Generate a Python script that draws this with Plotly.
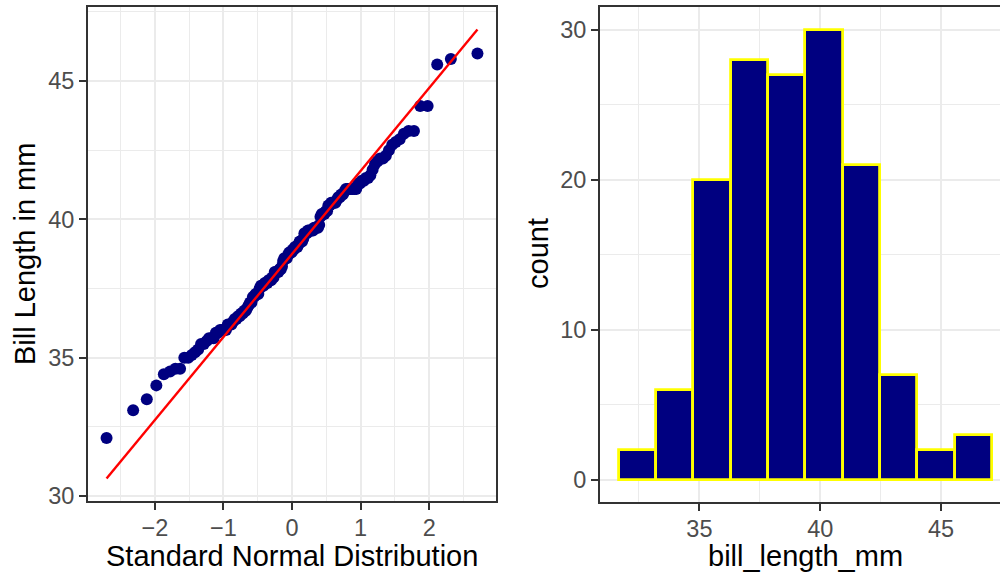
import statistics
import numpy as np
import plotly.graph_objects as go

# Adelie bill lengths (mm), complete cases
bill_length_mm = [
    39.1, 39.5, 40.3, 36.7, 39.3, 38.9, 39.2, 41.1, 38.6, 34.6,
    36.6, 38.7, 42.5, 34.4, 46.0, 37.8, 37.7, 35.9, 38.2, 38.8,
    35.3, 40.6, 40.5, 37.9, 40.5, 39.5, 37.2, 39.5, 40.9, 36.4,
    39.2, 38.8, 42.2, 37.6, 39.8, 36.5, 40.8, 36.0, 44.1, 37.0,
    39.6, 41.1, 36.0, 42.3, 39.6, 40.1, 35.0, 42.0, 34.5, 41.4,
    39.0, 40.6, 36.5, 37.6, 35.7, 41.3, 37.6, 41.1, 36.4, 41.6,
    35.5, 41.1, 35.9, 41.8, 33.5, 39.7, 39.6, 45.8, 35.5, 42.8,
    40.9, 37.2, 36.2, 42.1, 34.6, 42.9, 36.7, 35.1, 37.3, 41.3,
    36.3, 36.9, 38.3, 38.9, 35.7, 41.1, 34.0, 39.6, 36.2, 40.8,
    38.1, 40.3, 33.1, 43.2, 35.0, 41.0, 37.7, 37.8, 37.9, 39.7,
    38.6, 38.2, 38.1, 43.2, 38.1, 45.6, 39.7, 42.2, 39.6, 42.7,
    38.6, 37.3, 35.7, 41.1, 36.2, 37.7, 40.2, 41.4, 35.2, 40.6,
    38.8, 41.5, 39.0, 44.1, 38.5, 43.1, 36.8, 37.5, 38.1, 41.1,
    35.6, 40.2, 37.0, 39.7, 40.2, 40.6, 32.1, 40.7, 37.3, 39.0,
    39.2, 36.6, 36.0, 37.8, 36.0, 41.5,
]

# histogram counts per bin (10 bins)
hist_counts = [2, 6, 20, 28, 27, 30, 21, 7, 2, 3]

qq_x_ticks = [-2, -1, 0, 1, 2]
qq_y_ticks = [30, 35, 40, 45]
hist_x_ticks = [35, 40, 45]
hist_y_ticks = [0, 10, 20, 30]

# ---- normal Q-Q ----
nd = statistics.NormalDist()
sample = sorted(bill_length_mm)
n = len(sample)
theoretical = [nd.inv_cdf((i + 0.5) / n) for i in range(n)]
q1, q3 = np.quantile(sample, [0.25, 0.75])
t1, t3 = nd.inv_cdf(0.25), nd.inv_cdf(0.75)
slope = (q3 - q1) / (t3 - t1)
intercept = q1 - slope * t1
line_x = [theoretical[0], theoretical[-1]]
line_y = [intercept + slope * x for x in line_x]

# ---- histogram bins ----
lo, hi = min(sample), max(sample)
binwidth = (hi - lo) / (len(hist_counts) - 1)
boundary = binwidth / 2
origin = boundary + np.floor((lo - boundary) / binwidth) * binwidth
edges = origin + binwidth * np.arange(len(hist_counts) + 1)
centers = (edges[:-1] + edges[1:]) / 2


def expand(a, b, f=0.05):
    d = (b - a) * f
    return [a - d, b + d]


W, H = 1000, 573
px = lambda v: v / W
py = lambda v: (H - v) / H

GRID = "#EBEBEB"
DARK = "#333333"
TICKFONT = dict(family="Liberation Sans, Arial, sans-serif", size=23.5, color="#4D4D4D")
TITLEFONT = dict(family="Liberation Sans, Arial, sans-serif", size=29, color="black")

fig = go.Figure()

fig.add_trace(go.Scatter(
    x=theoretical, y=sample, mode="markers",
    marker=dict(color="#000080", size=12, line=dict(width=0)),
    xaxis="x", yaxis="y", hoverinfo="skip", showlegend=False,
))
fig.add_trace(go.Scatter(
    x=line_x, y=line_y, mode="lines",
    line=dict(color="#FF0000", width=2.4),
    xaxis="x", yaxis="y", hoverinfo="skip", showlegend=False,
))
fig.add_trace(go.Bar(
    x=centers, y=hist_counts, width=binwidth,
    marker=dict(color="#000080", line=dict(color="#FFFF00", width=2.8)),
    xaxis="x2", yaxis="y2", hoverinfo="skip", showlegend=False,
))

qq_xr = expand(theoretical[0], theoretical[-1])
qq_yr = expand(min(min(sample), min(line_y)), max(max(sample), max(line_y)))
h_xr_full = expand(edges[0], edges[-1])
h_yr = expand(0, max(hist_counts))

# right panel runs past the page edge; keep its px-per-unit scale and cut at 1000
left2, right2 = 600, 1000
h_scale = 24.17
h_xr = [h_xr_full[0], h_xr_full[0] + (right2 - left2) / h_scale]

common = dict(
    showgrid=True, gridcolor=GRID, gridwidth=2,
    zeroline=False, showline=True, linecolor=DARK, linewidth=2,
    ticks="outside", ticklen=7, tickwidth=2, tickcolor=DARK,
    tickfont=TICKFONT, automargin=False,
)

fig.update_layout(
    width=W, height=H,
    margin=dict(l=0, r=0, t=0, b=0),
    paper_bgcolor="white", plot_bgcolor="white",
    bargap=0,
    xaxis=dict(
        domain=[px(88), px(496)], range=qq_xr, anchor="y",
        tickvals=qq_x_ticks, ticktext=["\u22122", "\u22121", "0", "1", "2"],
        mirror=True, ticklabelstandoff=-2,
        minor=dict(tickvals=[-2.5, -1.5, -0.5, 0.5, 1.5, 2.5], showgrid=True,
                   gridcolor=GRID, gridwidth=1, ticks=""),
        **common,
    ),
    yaxis=dict(
        domain=[py(501), py(7)], range=qq_yr, anchor="x",
        tickvals=qq_y_ticks, mirror=True,
        minor=dict(tickvals=[32.5, 37.5, 42.5, 47.5], showgrid=True,
                   gridcolor=GRID, gridwidth=1, ticks=""),
        **common,
    ),
    xaxis2=dict(
        domain=[px(left2), px(right2)], range=h_xr, anchor="y2",
        tickvals=hist_x_ticks, mirror=True, ticklabelstandoff=-2,
        minor=dict(tickvals=[32.5, 37.5, 42.5, 47.5], showgrid=True,
                   gridcolor=GRID, gridwidth=1, ticks=""),
        **common,
    ),
    yaxis2=dict(
        domain=[py(502), py(7)], range=h_yr, anchor="x2",
        tickvals=hist_y_ticks, mirror=False,
        minor=dict(tickvals=[5, 15, 25], showgrid=True,
                   gridcolor=GRID, gridwidth=1, ticks=""),
        **common,
    ),
    annotations=[
        dict(text="Standard Normal Distribution", x=px(292), y=py(556),
             xref="paper", yref="paper", xanchor="center", yanchor="middle",
             showarrow=False, font=TITLEFONT),
        dict(text="Bill Length in mm", x=px(25), y=py(254), textangle=-90,
             xref="paper", yref="paper", xanchor="center", yanchor="middle",
             showarrow=False, font=TITLEFONT),
        dict(text="bill_length_mm", x=px(805), y=py(556),
             xref="paper", yref="paper", xanchor="center", yanchor="middle",
             showarrow=False, font=TITLEFONT),
        dict(text="count", x=px(538), y=py(254), textangle=-90,
             xref="paper", yref="paper", xanchor="center", yanchor="middle",
             showarrow=False, font=TITLEFONT),
    ],
)

fig.write_html("out.html")
